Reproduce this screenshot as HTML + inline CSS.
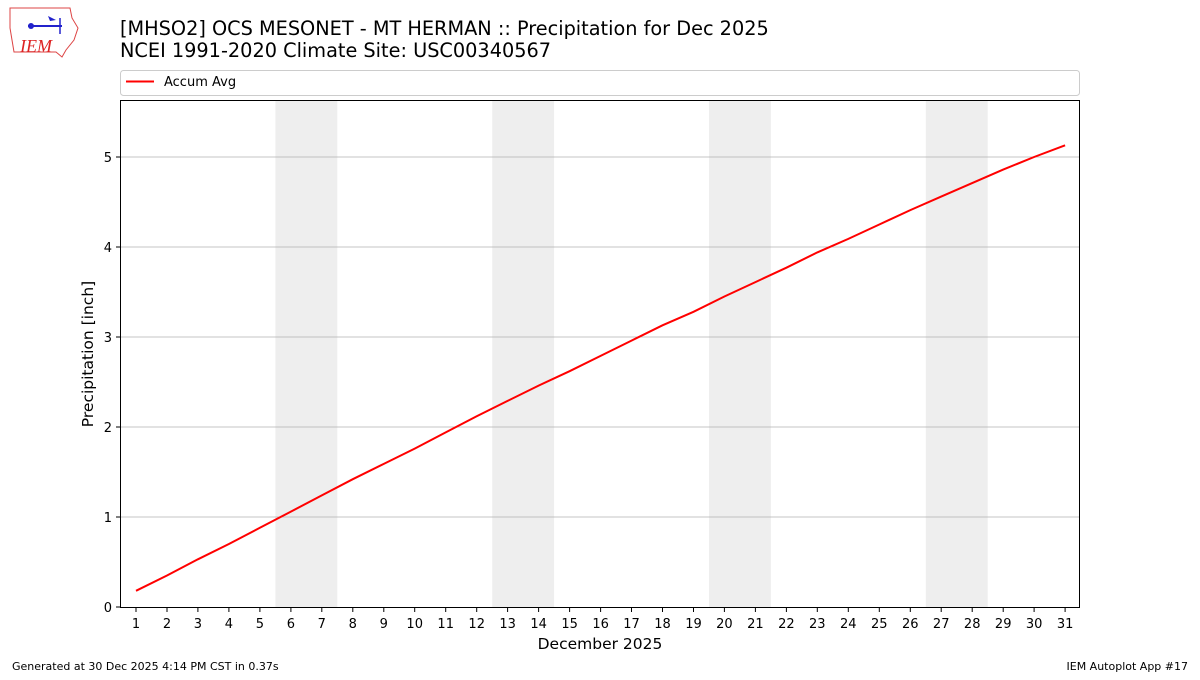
<!DOCTYPE html>
<html><head><style>
body{margin:0;width:1200px;height:675px;background:#fff;overflow:hidden;font-family:"Liberation Sans","DejaVu Sans",sans-serif;}
</style></head><body>
<svg width="1200" height="675" xmlns="http://www.w3.org/2000/svg" font-family="DejaVu Sans, Liberation Sans, sans-serif">
<g>
<path d="M10,8 L70,8 L72,18 L78,28 L74,40 L66,50 L62,57 L56,52 L14,52 L12,40 L10,28 Z" fill="#fff" stroke="#d44" stroke-width="1"/>
<line x1="28" y1="26" x2="62" y2="26" stroke="#22c" stroke-width="2"/>
<circle cx="31" cy="26" r="3" fill="#22c"/>
<line x1="60" y1="18" x2="60" y2="34" stroke="#22c" stroke-width="1.5"/>
<path d="M48,16 L56,20 L50,21 Z" fill="#22c"/>
<text x="20" y="52" font-family="Liberation Serif, serif" font-style="italic" font-size="18" fill="#d22">IEM</text>
</g>
<text x="120" y="35" font-size="19.3" fill="#000">[MHSO2] OCS MESONET - MT HERMAN :: Precipitation for Dec 2025</text>
<text x="120" y="57" font-size="19.3" fill="#000">NCEI 1991-2020 Climate Site: USC00340567</text>
<rect x="120.5" y="70.5" width="959" height="25" rx="3" fill="#fff" stroke="#ccc"/>
<line x1="126" y1="81.5" x2="154" y2="81.5" stroke="#f00" stroke-width="2"/>
<text x="164" y="86" font-size="13">Accum Avg</text>
<g fill="#eee">
<rect x="275.4" y="100" width="61.9" height="507"/>
<rect x="492.2" y="100" width="61.9" height="507"/>
<rect x="709" y="100" width="61.9" height="507"/>
<rect x="925.8" y="100" width="61.9" height="507"/>
</g>
<g stroke="#b0b0b0" stroke-width="0.8">
<line x1="120" y1="517" x2="1080" y2="517"/>
<line x1="120" y1="427" x2="1080" y2="427"/>
<line x1="120" y1="337" x2="1080" y2="337"/>
<line x1="120" y1="247" x2="1080" y2="247"/>
<line x1="120" y1="157" x2="1080" y2="157"/>
</g>
<polyline fill="none" stroke="#f00" stroke-width="2" points="136,590.8 167,575.5 197.9,559.3 228.9,544 259.9,527.8 290.9,511.6 321.8,495.4 352.8,479.2 383.8,463.9 414.7,448.6 445.7,432.4 476.7,416.2 507.6,400.9 538.6,385.6 569.6,371.2 600.6,355.9 631.5,340.6 662.5,325.3 693.5,311.8 724.4,296.5 755.4,282.1 786.4,267.7 817.3,252.4 848.3,238.9 879.3,224.5 910.3,210.1 941.2,196.6 972.2,183.1 1003.2,169.6 1034.1,157 1065.1,145.3"/>
<rect x="120.5" y="100.5" width="959" height="507" fill="none" stroke="#000" stroke-width="1"/>
<g font-size="13" text-anchor="end">
<g stroke="#000"><line x1="116" y1="607" x2="120" y2="607"/><line x1="116" y1="517" x2="120" y2="517"/><line x1="116" y1="427" x2="120" y2="427"/><line x1="116" y1="337" x2="120" y2="337"/><line x1="116" y1="247" x2="120" y2="247"/><line x1="116" y1="157" x2="120" y2="157"/></g>
<text x="112" y="612">0</text><text x="112" y="522">1</text><text x="112" y="432">2</text><text x="112" y="342">3</text><text x="112" y="252">4</text><text x="112" y="162">5</text>
</g>
<text transform="translate(93,354) rotate(-90)" font-size="15.5" text-anchor="middle">Precipitation [inch]</text>
<g font-size="13" text-anchor="middle">
<g stroke="#000">
<line x1="136" y1="608" x2="136" y2="612"/><line x1="167" y1="608" x2="167" y2="612"/><line x1="197.9" y1="608" x2="197.9" y2="612"/><line x1="228.9" y1="608" x2="228.9" y2="612"/><line x1="259.9" y1="608" x2="259.9" y2="612"/><line x1="290.9" y1="608" x2="290.9" y2="612"/><line x1="321.8" y1="608" x2="321.8" y2="612"/><line x1="352.8" y1="608" x2="352.8" y2="612"/><line x1="383.8" y1="608" x2="383.8" y2="612"/><line x1="414.7" y1="608" x2="414.7" y2="612"/><line x1="445.7" y1="608" x2="445.7" y2="612"/><line x1="476.7" y1="608" x2="476.7" y2="612"/><line x1="507.6" y1="608" x2="507.6" y2="612"/><line x1="538.6" y1="608" x2="538.6" y2="612"/><line x1="569.6" y1="608" x2="569.6" y2="612"/><line x1="600.6" y1="608" x2="600.6" y2="612"/><line x1="631.5" y1="608" x2="631.5" y2="612"/><line x1="662.5" y1="608" x2="662.5" y2="612"/><line x1="693.5" y1="608" x2="693.5" y2="612"/><line x1="724.4" y1="608" x2="724.4" y2="612"/><line x1="755.4" y1="608" x2="755.4" y2="612"/><line x1="786.4" y1="608" x2="786.4" y2="612"/><line x1="817.3" y1="608" x2="817.3" y2="612"/><line x1="848.3" y1="608" x2="848.3" y2="612"/><line x1="879.3" y1="608" x2="879.3" y2="612"/><line x1="910.3" y1="608" x2="910.3" y2="612"/><line x1="941.2" y1="608" x2="941.2" y2="612"/><line x1="972.2" y1="608" x2="972.2" y2="612"/><line x1="1003.2" y1="608" x2="1003.2" y2="612"/><line x1="1034.1" y1="608" x2="1034.1" y2="612"/><line x1="1065.1" y1="608" x2="1065.1" y2="612"/>
</g>
<text x="136" y="628">1</text><text x="167" y="628">2</text><text x="197.9" y="628">3</text><text x="228.9" y="628">4</text><text x="259.9" y="628">5</text><text x="290.9" y="628">6</text><text x="321.8" y="628">7</text><text x="352.8" y="628">8</text><text x="383.8" y="628">9</text><text x="414.7" y="628">10</text><text x="445.7" y="628">11</text><text x="476.7" y="628">12</text><text x="507.6" y="628">13</text><text x="538.6" y="628">14</text><text x="569.6" y="628">15</text><text x="600.6" y="628">16</text><text x="631.5" y="628">17</text><text x="662.5" y="628">18</text><text x="693.5" y="628">19</text><text x="724.4" y="628">20</text><text x="755.4" y="628">21</text><text x="786.4" y="628">22</text><text x="817.3" y="628">23</text><text x="848.3" y="628">24</text><text x="879.3" y="628">25</text><text x="910.3" y="628">26</text><text x="941.2" y="628">27</text><text x="972.2" y="628">28</text><text x="1003.2" y="628">29</text><text x="1034.1" y="628">30</text><text x="1065.1" y="628">31</text>
</g>
<text x="600" y="649" font-size="15.5" text-anchor="middle">December 2025</text>
<text x="12" y="670" font-size="11">Generated at 30 Dec 2025 4:14 PM CST in 0.37s</text>
<text x="1188" y="670" font-size="11" text-anchor="end">IEM Autoplot App #17</text>
</svg>
</body></html>
